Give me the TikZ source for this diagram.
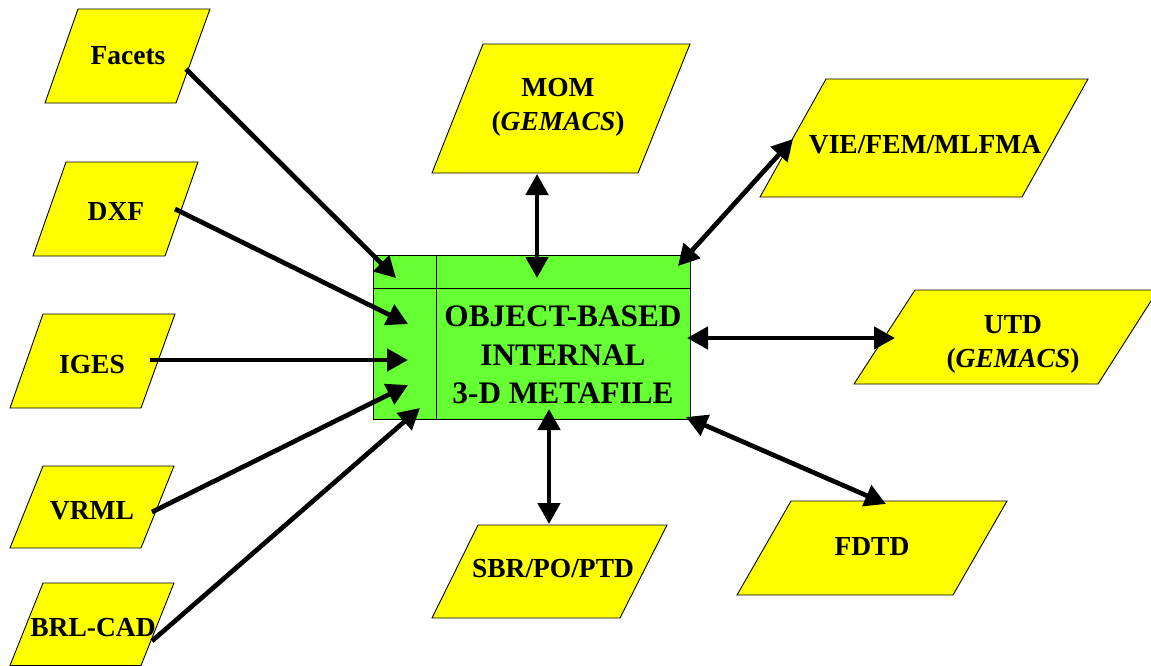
\documentclass[tikz,border=0pt]{standalone}
\usepackage{fontspec}
\setmainfont{Liberation Serif}
\usetikzlibrary{arrows.meta}
\definecolor{paraY}{HTML}{FFFF00}
\definecolor{metaG}{HTML}{66FF33}
\tikzset{
  para/.style={fill=paraY, draw=black, line width=0.9pt, line join=miter},
  metabox/.style={fill=metaG, draw=black, line width=0.9pt},
  divider/.style={draw=black, line width=0.9pt},
  lbl/.style={font=\fontsize{27.5}{34}\selectfont\bfseries, inner sep=0pt, align=center},
  metalbl/.style={font=\fontsize{31.3}{38.5}\selectfont\bfseries, inner sep=0pt, align=center},
  con/.style={line width=4.7pt, -{Triangle[length=21pt,width=22pt]}},
  bicon/.style={line width=4.7pt, {Triangle[length=21pt,width=22pt]}-{Triangle[length=21pt,width=22pt]}},
}
\begin{document}
\begin{tikzpicture}[x=1pt,y=-1pt]
\useasboundingbox (0,0) rectangle (1151,665);
\clip (0,0) rectangle (1151,665);
% input formats
\filldraw[para] (78,9) -- (210,9) -- (176,103) -- (45,103) -- cycle;
\filldraw[para] (66,162) -- (198,162) -- (165,256) -- (33,256) -- cycle;
\filldraw[para] (43,314) -- (175,314) -- (141,408) -- (10,408) -- cycle;
\filldraw[para] (43,466) -- (174,466) -- (141,548) -- (10,548) -- cycle;
\filldraw[para] (43,583) -- (174,583) -- (141,665.5) -- (10,665.5) -- cycle;
% solvers
\filldraw[para] (483,44) -- (690,44) -- (638,173) -- (432,173) -- cycle;
\filldraw[para] (826,79) -- (1088,79) -- (1022,197) -- (760,197) -- cycle;
\filldraw[para] (915,290) -- (1158,290) -- (1098,384) -- (854,384) -- cycle;
\filldraw[para] (478,525) -- (667,525) -- (620,618) -- (432,618) -- cycle;
\filldraw[para] (791,501) -- (1007,501) -- (953,595) -- (737,595) -- cycle;
% metafile box
\filldraw[metabox] (373,255) rectangle (690,419);
\draw[divider] (436,255) -- (436,419) (373,288) -- (690,288);
% labels
\node[lbl, anchor=base] (facets) at (128,64) {Facets};
\node[lbl, anchor=base] (dxf) at (116,220) {DXF};
\node[lbl, anchor=base] (iges) at (92,373) {IGES};
\node[lbl, anchor=base] (vrml) at (92,519) {VRML};
\node[lbl, anchor=base] (brl) at (93,636) {BRL-CAD};
\node[lbl] (mom) at (558,107) {MOM\\(\textit{GEMACS})};
\node[lbl, anchor=base] (vie) at (925,153) {VIE/FEM/MLFMA};
\node[lbl] (utd) at (1013,344) {UTD\\(\textit{GEMACS})};
\node[lbl, anchor=base] (sbr) at (553,577) {SBR/PO/PTD};
\node[lbl, anchor=base] (fdtd) at (872,555) {FDTD};
\node[metalbl] (meta) at (563,355) {OBJECT-BASED\\INTERNAL\\3-D METAFILE};
% connector ends
\coordinate (facetsE) at (186,69);   \coordinate (metaFacets) at (396,278);
\coordinate (dxfE) at (175,209);     \coordinate (metaDxf) at (408,324);
\coordinate (igesE) at (150,360);    \coordinate (metaIges) at (408,360);
\coordinate (vrmlE) at (152,512);    \coordinate (metaVrml) at (408,385);
\coordinate (brlE) at (152,641);     \coordinate (metaBrl) at (420,408);
\coordinate (momE) at (537,174);     \coordinate (metaMom) at (537,278);
\coordinate (vieE) at (793,139);     \coordinate (metaVie) at (678,266);
\coordinate (utdE) at (895,338);     \coordinate (metaUtd) at (687,338);
\coordinate (sbrE) at (549,524);     \coordinate (metaSbr) at (549,409);
\coordinate (fdtdE) at (886,504);    \coordinate (metaFdtd) at (686,417);
% connectors
\draw[con] (facetsE) -- (metaFacets);
\draw[con] (dxfE) -- (metaDxf);
\draw[con] (igesE) -- (metaIges);
\draw[con] (vrmlE) -- (metaVrml);
\draw[con] (brlE) -- (metaBrl);
\draw[bicon] (momE) -- (metaMom);
\draw[bicon] (vieE) -- (metaVie);
\draw[bicon] (utdE) -- (metaUtd);
\draw[bicon] (sbrE) -- (metaSbr);
\draw[bicon] (fdtdE) -- (metaFdtd);
\end{tikzpicture}
\end{document}
